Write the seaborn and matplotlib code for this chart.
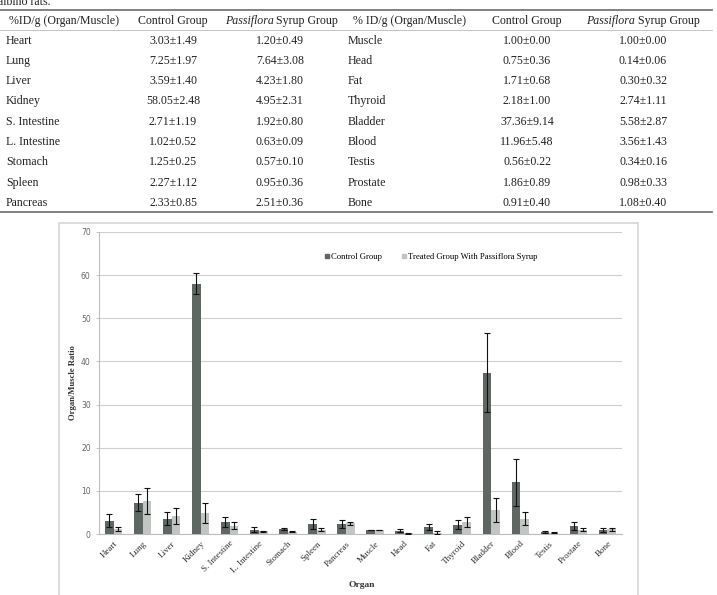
import matplotlib
matplotlib.use("Agg")
import matplotlib.pyplot as plt
from matplotlib.patches import Rectangle
from matplotlib.lines import Line2D
import seaborn as sns
import pandas as pd
import numpy as np

# ---------------- data ----------------
organs = ["Heart", "Lung", "Liver", "Kidney", "S. Intestine", "L. Intestine",
          "Stomach", "Spleen", "Pancreas", "Muscle", "Head", "Fat", "Thyroid",
          "Bladder", "Blood", "Testis", "Prostate", "Bone"]
control_mean = [3.03, 7.25, 3.59, 58.05, 2.71, 1.02, 1.25, 2.27, 2.33,
                1.00, 0.75, 1.71, 2.18, 37.36, 11.96, 0.56, 1.86, 0.91]
control_sd = [1.49, 1.97, 1.40, 2.48, 1.19, 0.52, 0.25, 1.12, 0.85,
              0.00, 0.36, 0.68, 1.00, 9.14, 5.48, 0.22, 0.89, 0.40]
treated_mean = [1.20, 7.64, 4.23, 4.95, 1.92, 0.63, 0.57, 0.95, 2.51,
                1.00, 0.14, 0.30, 2.74, 5.58, 3.56, 0.34, 0.98, 1.08]
treated_sd = [0.49, 3.08, 1.80, 2.31, 0.80, 0.09, 0.10, 0.36, 0.36,
              0.00, 0.06, 0.32, 1.11, 2.87, 1.43, 0.16, 0.33, 0.40]
table_header = ["%ID/g (Organ/Muscle)", "Control Group", "Passiflora", "Syrup Group",
                "% ID/g (Organ/Muscle)", "Control Group", "Passiflora", "Syrup Group"]
series_names = ["Control Group", "Treated Group With Passiflora Syrup"]
y_ticks = [0, 10, 20, 30, 40, 50, 60, 70]

W, H = 717, 595
fig = plt.figure(figsize=(W / 100, H / 100), dpi=100)
serif = "Liberation Serif"

def fx(px):
    return px / W

def fy(py):
    return 1 - py / H

# ---------------- caption fragment ----------------
fig.text(fx(-2), fy(5), "albino rats.", family=serif, fontsize=8.6,
         va="baseline", ha="left", color="#222222")

# ---------------- table ----------------
tcol = "#222222"
fs = 8.6
fig.add_artist(Line2D([0, fx(712)], [fy(9.5), fy(9.5)], color="#777777", lw=1.3))
fig.add_artist(Line2D([0, fx(712)], [fy(30), fy(30)], color="#bbbbbb", lw=0.6))
fig.add_artist(Line2D([0, fx(712)], [fy(212), fy(212)], color="#777777", lw=1.3))

hy = fy(21)
fig.text(fx(9), hy, table_header[0], family=serif, fontsize=fs, va="center", color=tcol)
fig.text(fx(173), hy, table_header[1], family=serif, fontsize=fs, va="center", ha="center", color=tcol)
fig.text(fx(274), hy, table_header[2], family=serif, style="italic", fontsize=fs, va="center", ha="right", color=tcol)
fig.text(fx(276.5), hy, table_header[3], family=serif, fontsize=fs, va="center", ha="left", color=tcol)
fig.text(fx(353), hy, table_header[4], family=serif, fontsize=fs, va="center", color=tcol)
fig.text(fx(527), hy, table_header[5], family=serif, fontsize=fs, va="center", ha="center", color=tcol)
fig.text(fx(635), hy, table_header[6], family=serif, style="italic", fontsize=fs, va="center", ha="right", color=tcol)
fig.text(fx(637.5), hy, table_header[7], family=serif, fontsize=fs, va="center", ha="left", color=tcol)

row_y = [41, 61, 81, 101, 122, 142, 162, 183, 203]
for i, ry in enumerate(row_y):
    y = fy(ry)
    j = i + 9
    fig.text(fx(6), y, organs[i], family=serif, fontsize=fs, va="center", color=tcol)
    fig.text(fx(173), y, f"{control_mean[i]:.2f}\u00b1{control_sd[i]:.2f}", family=serif,
             fontsize=fs, va="center", ha="center", color=tcol)
    fig.text(fx(280), y, f"{treated_mean[i]:.2f}\u00b1{treated_sd[i]:.2f}", family=serif,
             fontsize=fs, va="center", ha="center", color=tcol)
    fig.text(fx(348), y, organs[j], family=serif, fontsize=fs, va="center", color=tcol)
    fig.text(fx(527), y, f"{control_mean[j]:.2f}\u00b1{control_sd[j]:.2f}", family=serif,
             fontsize=fs, va="center", ha="center", color=tcol)
    fig.text(fx(643), y, f"{treated_mean[j]:.2f}\u00b1{treated_sd[j]:.2f}", family=serif,
             fontsize=fs, va="center", ha="center", color=tcol)

# ---------------- chart frame ----------------
fig.add_artist(Rectangle((fx(59), fy(600)), fx(638) - fx(59), fy(223) - fy(600),
                         fill=False, edgecolor="#d6d6d6", lw=1.2))

# ---------------- bar chart ----------------
ax = fig.add_axes([fx(99), fy(534), fx(622) - fx(99), fy(232) - fy(534)])
df = pd.DataFrame({
    "Organ": organs * 2,
    "Ratio": control_mean + treated_mean,
    "SD": control_sd + treated_sd,
    "Group": [series_names[0]] * len(organs) + [series_names[1]] * len(organs),
})
palette = {series_names[0]: "#5f6762", series_names[1]: "#c2c6c2"}
sns.barplot(data=df, x="Organ", y="Ratio", hue="Group", palette=palette,
            errorbar=None, width=0.6, gap=0.0, ax=ax, saturation=1, legend=False,
            zorder=3)

# error bars positioned from drawn bars
for container, grp in zip(ax.containers, series_names):
    sub = df[df["Group"] == grp]
    xs = [p.get_x() + p.get_width() / 2 for p in container.patches]
    ax.errorbar(xs, sub["Ratio"].values, yerr=sub["SD"].values, fmt="none",
                ecolor="#111111", elinewidth=0.8, capsize=2.2, capthick=0.8, zorder=4)

ax.set_ylim(0, 70)
ax.set_xlim(-0.5, len(organs) - 0.5)
ax.set_yticks(y_ticks)
ax.yaxis.grid(True, color="#cfcfcf", lw=0.8, zorder=0)
ax.xaxis.grid(False)
ax.set_axisbelow(True)
for s in ["top", "right"]:
    ax.spines[s].set_visible(False)
ax.spines["left"].set_color("#bdbdbd")
ax.spines["bottom"].set_color("#bdbdbd")
ax.spines["left"].set_linewidth(0.8)
ax.spines["bottom"].set_linewidth(0.8)
ax.tick_params(axis="y", labelsize=5.5, labelcolor="#666666", color="#bdbdbd",
               length=2, width=0.6, pad=4)
ax.tick_params(axis="x", length=0, pad=4)
ax.set_xticks(range(len(organs)))
ax.set_xticklabels(organs, rotation=45, ha="right", rotation_mode="anchor",
                   family=serif, fontsize=6.5, color="#333333")
for lab in ax.get_yticklabels():
    lab.set_family("DejaVu Sans")
ax.set_xlabel("")
ax.set_ylabel("")

fig.text(fx(73), fy(383), "Organ/Muscle Ratio", rotation=90, family=serif,
         fontweight="bold", fontsize=6.2, ha="center", va="center", color="#333333")
fig.text(fx(362), fy(585), "Organ", family=serif, fontweight="bold",
         fontsize=6.8, ha="center", va="center", color="#333333")

# legend
handles = [Line2D([], [], marker="s", linestyle="none", markersize=3.2,
                  markerfacecolor=palette[n], markeredgecolor=palette[n]) for n in series_names]
fig.legend(handles, series_names, loc="center", bbox_to_anchor=(fx(431), fy(257)),
           ncol=2, frameon=False, handlelength=0.6, handletextpad=0.2,
           columnspacing=2.2, prop={"family": serif, "size": 6.2})

fig.savefig("out.png", dpi=100)
